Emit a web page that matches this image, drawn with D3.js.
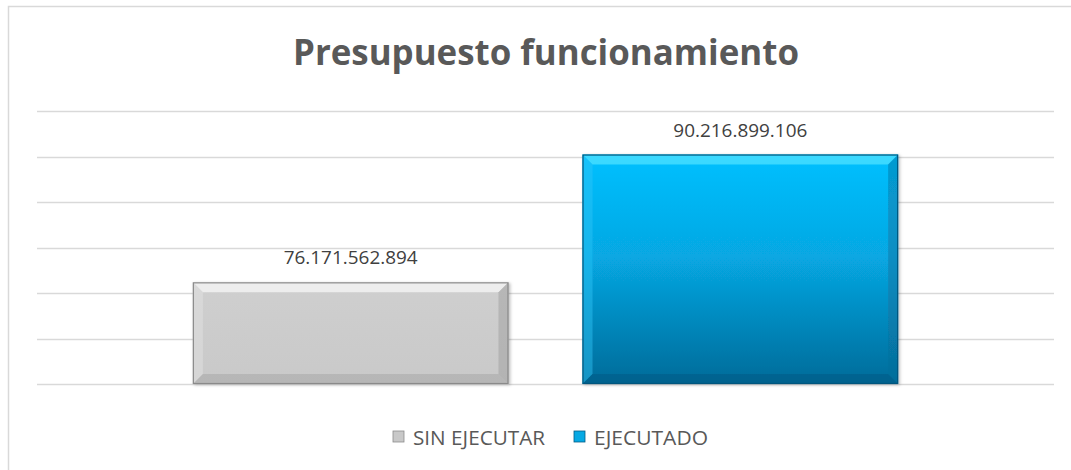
<!DOCTYPE html>
<html>
<head>
<meta charset="utf-8">
<script src="https://cdn.jsdelivr.net/npm/d3@7"></script>
<style>
  body { margin: 0; background: #fff; }
  svg { display: block; }
</style>
</head>
<body>
<svg id="chart" width="1071" height="470"></svg>
<script>
// Data
const series = ["SIN EJECUTAR", "EJECUTADO"];
const values = [76171562894, 90216899106];
const labels = ["76.171.562.894", "90.216.899.106"];
const yTicks = [65e9, 70e9, 75e9, 80e9, 85e9, 90e9, 95e9];

const width = 1071;
const height = 470;
const margin = { top: 111, right: 17, bottom: 86, left: 37 };
const font = "'Open Sans', 'Noto Sans', sans-serif";

const svg = d3.select("#chart");

// Chart frame
svg.append("rect")
  .attr("x", 8.5)
  .attr("y", 6.5)
  .attr("width", width + 10)
  .attr("height", height + 10)
  .attr("fill", "#fff")
  .attr("stroke", "#d9d9d9")
  .attr("stroke-width", 1.5);

// Scales
const x = d3.scaleBand()
  .domain(series)
  .range([margin.left, width - margin.right])
  .paddingInner(0.19)
  .paddingOuter(0.4);

const y = d3.scaleLinear()
  .domain([65e9, 95e9])
  .range([height - margin.bottom, margin.top]);

// Gridlines
svg.append("g")
  .selectAll("line")
  .data(yTicks)
  .enter()
  .append("line")
  .attr("x1", margin.left)
  .attr("x2", width - margin.right)
  .attr("y1", (d) => Math.round(y(d)) + 0.5)
  .attr("y2", (d) => Math.round(y(d)) + 0.5)
  .attr("stroke", "#d9d9d9")
  .attr("stroke-width", 1.5);

// Gradients
const defs = svg.append("defs");
const blueGrad = defs.append("linearGradient")
  .attr("id", "blue-face")
  .attr("x1", 0).attr("y1", 0).attr("x2", 0).attr("y2", 1);
blueGrad.append("stop").attr("offset", "0%").attr("stop-color", "#02c0ff");
blueGrad.append("stop").attr("offset", "45%").attr("stop-color", "#07a7e2");
blueGrad.append("stop").attr("offset", "100%").attr("stop-color", "#026b99");

const grayGrad = defs.append("linearGradient")
  .attr("id", "gray-face")
  .attr("x1", 0).attr("y1", 0).attr("x2", 0).attr("y2", 1);
grayGrad.append("stop").attr("offset", "0%").attr("stop-color", "#cfcfcf");
grayGrad.append("stop").attr("offset", "100%").attr("stop-color", "#c9c9c9");

defs.append("filter")
  .attr("id", "shadow")
  .attr("x", "-5%").attr("y", "-5%").attr("width", "115%").attr("height", "115%")
  .append("feDropShadow")
  .attr("dx", 1.5).attr("dy", 1).attr("stdDeviation", 1.5)
  .attr("flood-color", "#000").attr("flood-opacity", 0.25);

const styles = {
  "SIN EJECUTAR": {
    face: "url(#gray-face)", top: "#f7f7f7", left: "#e4e4e4",
    right: "#9a9a9a", bottom: "#9a9a9a", edge: "#8a8a8a"
  },
  "EJECUTADO": {
    face: "url(#blue-face)", top: "#4fe2ff", left: "#2cc6f6",
    right: "#0a6f9c", bottom: "#04567c", edge: "#03577e"
  }
};

// Bevelled bars
const bev = 10;
const bars = svg.append("g")
  .selectAll("g")
  .data(series.map((s, i) => ({ s, v: values[i], label: labels[i] })))
  .enter()
  .append("g")
  .attr("filter", "url(#shadow)");

function poly(pts) {
  return "M" + pts.map((p) => p.join(",")).join("L") + "Z";
}

bars.each(function (d) {
  const g = d3.select(this);
  const st = styles[d.s];
  const x0 = x(d.s), x1 = x0 + x.bandwidth();
  const y0 = y(d.v), y1 = y(65e9);
  g.append("rect")
    .attr("x", x0).attr("y", y0)
    .attr("width", x1 - x0).attr("height", y1 - y0)
    .attr("fill", st.face);
  g.append("path").attr("fill", st.top).attr("opacity", 0.75)
    .attr("d", poly([[x0, y0], [x1, y0], [x1 - bev, y0 + bev], [x0 + bev, y0 + bev]]));
  g.append("path").attr("fill", st.left).attr("opacity", 0.45)
    .attr("d", poly([[x0, y0], [x0 + bev, y0 + bev], [x0 + bev, y1 - bev], [x0, y1]]));
  g.append("path").attr("fill", st.right).attr("opacity", 0.45)
    .attr("d", poly([[x1, y0], [x1, y1], [x1 - bev, y1 - bev], [x1 - bev, y0 + bev]]));
  g.append("path").attr("fill", st.bottom).attr("opacity", 0.4)
    .attr("d", poly([[x0, y1], [x0 + bev, y1 - bev], [x1 - bev, y1 - bev], [x1, y1]]));
  g.append("rect")
    .attr("x", x0 + 0.5).attr("y", y0 + 0.5)
    .attr("width", x1 - x0 - 1).attr("height", y1 - y0 - 1)
    .attr("fill", "none").attr("stroke", st.edge).attr("stroke-width", 1.2);
});

// Data labels
svg.append("g")
  .selectAll("text")
  .data(series.map((s, i) => ({ s, v: values[i], label: labels[i] })))
  .enter()
  .append("text")
  .attr("x", (d) => x(d.s) + x.bandwidth() / 2)
  .attr("y", (d) => y(d.v) - 18)
  .attr("text-anchor", "middle")
  .attr("font-family", font)
  .attr("font-size", 19)
  .attr("fill", "#404040")
  .attr("textLength", 134)
  .attr("lengthAdjust", "spacingAndGlyphs")
  .text((d) => d.label);

// Title
svg.append("text")
  .attr("x", 546)
  .attr("y", 65)
  .attr("text-anchor", "middle")
  .attr("font-family", font)
  .attr("font-weight", "bold")
  .attr("font-size", 36)
  .attr("fill", "#595959")
  .attr("textLength", 506)
  .attr("lengthAdjust", "spacingAndGlyphs")
  .text("Presupuesto funcionamiento");

// Legend
const legendX = [393, 574];
const legendW = [132, 114];
const legend = svg.append("g")
  .selectAll("g")
  .data(series)
  .enter()
  .append("g")
  .attr("transform", (d, i) => `translate(${legendX[i]},431)`);

legend.append("rect")
  .attr("width", 11).attr("height", 11)
  .attr("fill", (d) => (d === "EJECUTADO" ? "#06a9e4" : "#c8c8c8"))
  .attr("stroke", (d) => (d === "EJECUTADO" ? "#035c84" : "#8c8c8c"))
  .attr("stroke-width", 0.8);

legend.append("text")
  .attr("x", 20)
  .attr("y", 13.5)
  .attr("font-family", font)
  .attr("font-size", 20)
  .attr("fill", "#595959")
  .attr("textLength", (d, i) => legendW[i])
  .attr("lengthAdjust", "spacingAndGlyphs")
  .text((d) => d);
</script>
</body>
</html>
